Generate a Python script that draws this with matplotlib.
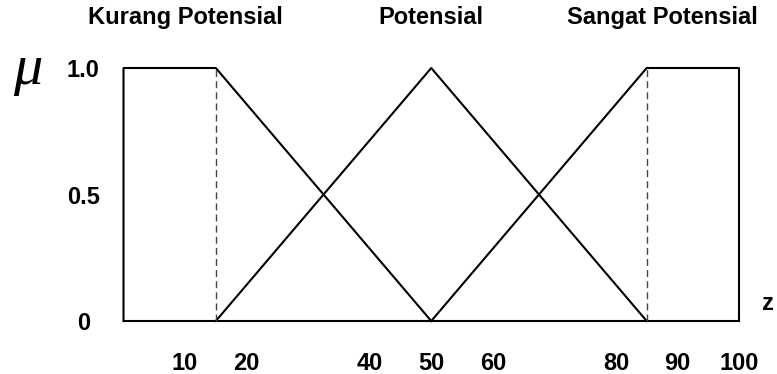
import numpy as np
import matplotlib.pyplot as plt

plt.rc('font', family='Liberation Sans', weight='bold')

##################
## Data
##################
# membership breakpoints (z, mu)
kurang_z = [0, 0, 15, 50]
kurang_mu = [0, 1, 1, 0]
potensial_z = [15, 50, 85]
potensial_mu = [0, 1, 0]
sangat_z = [50, 85, 100, 100]
sangat_mu = [0, 1, 1, 0]
shoulders = [15, 85]

set_names = ['Kurang Potensial', 'Potensial', 'Sangat Potensial']
name_pos = [10, 50, 87.5]

x_ticks = [10, 20, 40, 50, 60, 80, 90, 100]
y_ticks = [0, 0.5, 1.0]
y_labels = ['0', '0.5', '1.0']

##################
## Plot
##################
fig = plt.figure(figsize=(7.77, 3.74), dpi=100)
ax = fig.add_axes([123.5/777, 53/374, 615.5/777, 253/374])
ax.set_xlim(0, 100)
ax.set_ylim(0, 1)

lw = 1.5
ax.plot([0, 100], [0, 0], color='black', linewidth=lw, clip_on=False)
ax.plot(kurang_z, kurang_mu, color='black', linewidth=lw, clip_on=False)
ax.plot(potensial_z, potensial_mu, color='black', linewidth=lw, clip_on=False)
ax.plot(sangat_z, sangat_mu, color='black', linewidth=lw, clip_on=False)
for s in shoulders:
    ax.plot([s, s], [0, 1], color='#444444', linewidth=1.0,
            linestyle=(0, (5, 3)), clip_on=False)

for sp in ax.spines.values():
    sp.set_visible(False)

ax.set_xticks(x_ticks)
ax.set_xticklabels([str(t) for t in x_ticks], fontsize=17, fontweight='bold')
ax.set_yticks(y_ticks)
ax.set_yticklabels(y_labels, fontsize=17, fontweight='bold', ha='center')
ax.tick_params(axis='x', length=0, pad=22)
ax.tick_params(axis='y', length=0, pad=29)

for name, p in zip(set_names, name_pos):
    ax.text(p, 1.2, name, ha='center', va='center', fontsize=17,
            fontweight='bold', transform=ax.transData)

fig.text(28/777, 1 - 70/374, 'μ', family='Liberation Serif', fontsize=42,
         fontstyle='italic', fontweight='normal', ha='center', va='center')
fig.text(768/777, 1 - 304/374, 'z', fontsize=17, fontweight='bold',
         ha='center', va='center')

plt.savefig('out.png', dpi=100)
